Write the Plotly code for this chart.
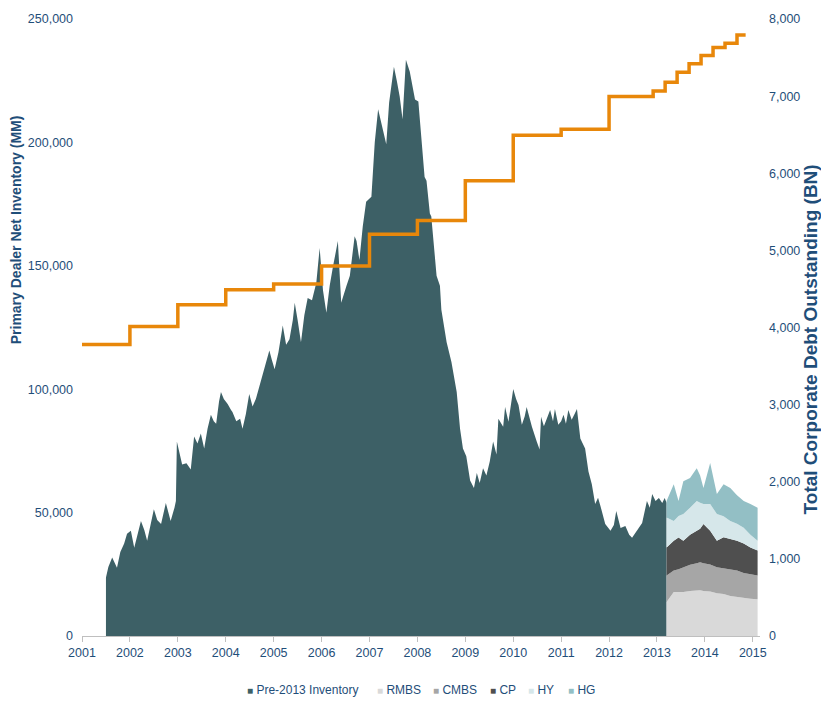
import plotly.graph_objects as go

# --- Primary dealer net inventory, pre-2013 (MM), decimal-year dates ---
pre_dates = [
    2001.50, 2001.55, 2001.63, 2001.68, 2001.73, 2001.80, 2001.88, 2001.94,
    2002.02, 2002.09, 2002.16, 2002.23, 2002.30, 2002.36, 2002.43, 2002.50,
    2002.57, 2002.65, 2002.75, 2002.85, 2002.93, 2002.96, 2002.98, 2003.04,
    2003.09, 2003.18, 2003.27, 2003.34, 2003.41, 2003.48, 2003.55, 2003.62,
    2003.69, 2003.75, 2003.80, 2003.86, 2003.90, 2003.96, 2004.04, 2004.11,
    2004.14, 2004.22, 2004.30, 2004.35, 2004.42, 2004.49, 2004.56, 2004.63,
    2004.70, 2004.77, 2004.84, 2004.91, 2004.96, 2005.02, 2005.10, 2005.19,
    2005.26, 2005.33, 2005.40, 2005.44, 2005.50, 2005.57, 2005.64, 2005.71,
    2005.80, 2005.89, 2005.96, 2006.03, 2006.10, 2006.17, 2006.24, 2006.34,
    2006.41, 2006.48, 2006.52, 2006.59, 2006.69, 2006.73, 2006.79, 2006.86,
    2006.93, 2007.04, 2007.11, 2007.18, 2007.25, 2007.30, 2007.35, 2007.41,
    2007.46, 2007.51, 2007.57, 2007.63, 2007.69, 2007.76, 2007.84, 2007.90,
    2007.95, 2008.02, 2008.09, 2008.15, 2008.19, 2008.26, 2008.29, 2008.36,
    2008.40, 2008.47, 2008.50, 2008.61, 2008.71, 2008.82, 2008.89, 2008.95,
    2009.02, 2009.10, 2009.18, 2009.24, 2009.30, 2009.37, 2009.44, 2009.51,
    2009.58, 2009.65, 2009.69, 2009.79, 2009.83, 2009.90, 2009.95, 2010.00,
    2010.06, 2010.11, 2010.18, 2010.24, 2010.28, 2010.34, 2010.39, 2010.49,
    2010.55, 2010.58, 2010.64, 2010.70, 2010.77, 2010.83, 2010.87, 2010.94,
    2011.00, 2011.05, 2011.10, 2011.15, 2011.22, 2011.28, 2011.33, 2011.40,
    2011.50, 2011.57, 2011.64, 2011.71, 2011.77, 2011.82, 2011.92, 2012.03,
    2012.10, 2012.15, 2012.24, 2012.34, 2012.42, 2012.48, 2012.58, 2012.69,
    2012.79, 2012.85, 2012.90, 2012.97, 2013.04, 2013.11, 2013.16, 2013.20,
]
pre_inventory = [
    23700, 28000, 31800, 29500, 27700, 34000, 37500, 41400,
    42600, 35800, 41000, 46600, 43000, 38600, 45000, 51400,
    47000, 45400, 53900, 46600, 52000, 54700, 78800, 73000,
    69500, 70000, 67500, 80800, 78000, 82000, 76000, 84000,
    89600, 87000, 86000, 95000, 98900, 96000, 94000, 91600,
    90800, 87000, 88000, 84000, 90000, 98100, 93000, 96100,
    101000, 106100, 110000, 115700, 112000, 108100, 115000, 125800,
    118000, 120200, 128000, 135000, 128000, 119000, 130000, 137000,
    136000, 143100, 157200, 140000, 131000, 142000, 149900, 160000,
    135000, 140000, 141900, 146000, 162000, 160000, 152300, 166000,
    176000, 178000, 200100, 213400, 207400, 204000, 199300, 216200,
    224000, 230700, 225000, 218600, 209400, 233500, 228700, 222000,
    217400, 216600, 198200, 186000, 184500, 171200, 170000, 155100,
    146000, 141900, 132200, 119000, 111000, 98900, 84000, 76000,
    72800, 63000, 60000, 66000, 62000, 68000, 65000, 70700,
    78800, 73500, 88000, 84800, 92800, 86800, 94000, 100100,
    96000, 93600, 85600, 89000, 92800, 88000, 84800, 78800,
    75600, 88800, 85000, 88000, 91600, 87000, 92000, 85600,
    87000, 89600, 86000, 91600, 87600, 90000, 92000, 80000,
    76000, 66700, 61500, 53500, 56000, 52700, 45400, 42600,
    45000, 50600, 43800, 44600, 41000, 39800, 42600, 45800,
    54700, 52000, 57500, 54700, 55900, 53900, 55900, 54000,
]

# --- Post-2013 breakdown (MM) ---
post_dates = [2013.20, 2013.35, 2013.45, 2013.55, 2013.69, 2013.83, 2013.90, 2013.97,
              2014.11, 2014.25, 2014.39, 2014.53, 2014.67, 2014.81, 2014.95, 2015.10]
rmbs = [13800, 17800, 17800, 17800, 18200, 18400, 18500, 18200,
        18000, 17300, 17000, 16200, 15800, 15400, 15100, 14900]
cmbs = [10700, 8700, 9200, 10100, 10700, 11100, 11400, 11300,
        11000, 10600, 10500, 10600, 10700, 10100, 9900, 9600]
cp = [11400, 12100, 12900, 10700, 12100, 13100, 13600, 15900,
      13600, 10700, 12500, 12500, 12100, 12000, 10900, 10100]
hy = [12100, 8000, 8700, 10800, 11000, 12100, 10500, 8100,
      10900, 10800, 8500, 7300, 6900, 6400, 5100, 4000]
hg = [6700, 14900, 6100, 13300, 12000, 13300, 11000, 6500,
      16600, 8100, 13000, 13400, 11500, 10800, 12500, 13400]

# --- Total corporate debt outstanding (BN), step dates ---
debt_dates = [2001.0, 2002.0, 2003.0, 2004.0, 2005.0, 2006.0, 2007.0, 2008.0,
              2009.0, 2010.0, 2011.0, 2012.0, 2012.92, 2013.17, 2013.42, 2013.67,
              2013.92, 2014.17, 2014.42, 2014.67, 2014.85]
debt_outstanding = [3781, 4013, 4296, 4488, 4565, 4797, 5208, 5388,
                    5903, 6494, 6571, 6996, 7065, 7180, 7309, 7421,
                    7527, 7630, 7687, 7794, 7794]

year_ticks = list(range(2001, 2016))
left_ticks = [0, 50000, 100000, 150000, 200000, 250000]
right_ticks = [0, 1000, 2000, 3000, 4000, 5000, 6000, 7000, 8000]

TEXT = "#1F4E79"
FONT = "Liberation Sans, Arial, sans-serif"

layers = [
    ("RMBS", rmbs, "#D9D9D9"),
    ("CMBS", cmbs, "#A6A6A6"),
    ("CP", cp, "#4F4F4F"),
    ("HY", hy, "#D6E7EA"),
    ("HG", hg, "#93BFC5"),
]
pre_color = "#3D6066"

fig = go.Figure()
fig.add_trace(go.Scatter(
    x=pre_dates, y=pre_inventory, name="Pre-2013 Inventory",
    mode="lines", line=dict(width=0, color=pre_color),
    fill="tozeroy", fillcolor=pre_color,
))
for name, vals, color in layers:
    fig.add_trace(go.Scatter(
        x=post_dates, y=vals, name=name, stackgroup="post",
        mode="lines", line=dict(width=0, color=color), fillcolor=color,
    ))
fig.add_trace(go.Scatter(
    x=debt_dates, y=debt_outstanding, name="Total Corporate Debt",
    mode="lines", line=dict(color="#E8870A", width=3.5, shape="hv"),
    yaxis="y2",
))

# plot area spans page x 82..760, y 14..636
def px_x(px):
    return (px - 82) / 678

def px_y(py):
    return (636 - py) / 622

# legend drawn as annotations to match the small square markers
legend_items = [("Pre-2013 Inventory", pre_color, 245)] + [
    (n, c, p) for (n, _, c), p in zip(layers, [375, 431, 488, 526, 566])
]
annotations = []
for label, color, p in legend_items:
    annotations.append(dict(
        x=px_x(p), y=px_y(690), xref="paper", yref="paper",
        xanchor="left", yanchor="middle", showarrow=False,
        text=f"<span style='color:{color};font-size:10px'>■</span> {label}",
        font=dict(family=FONT, size=12, color=TEXT),
    ))
annotations.append(dict(
    x=px_x(16), y=px_y(227), xref="paper", yref="paper", textangle=-90,
    xanchor="center", yanchor="middle",
    showarrow=False, text="<b>Primary Dealer Net Inventory (MM)</b>",
    font=dict(family=FONT, size=14, color=TEXT),
))
annotations.append(dict(
    x=px_x(810), y=px_y(337), xref="paper", yref="paper", textangle=-90,
    xanchor="center", yanchor="middle",
    showarrow=False, text="<b>Total Corporate Debt Outstanding (BN)</b>",
    font=dict(family=FONT, size=19, color=TEXT),
))

tick_font = dict(family=FONT, size=12.5, color=TEXT)
fig.update_layout(
    width=821, height=703,
    margin=dict(l=82, r=61, t=14, b=67),
    plot_bgcolor="white", paper_bgcolor="white",
    showlegend=False,
    annotations=annotations,
    xaxis=dict(
        range=[2001, 2015.15], tickvals=year_ticks, ticks="outside",
        ticklen=5, tickcolor="#BFBFBF", showline=True, linecolor="#BFBFBF",
        showgrid=False, zeroline=False, tickfont=tick_font,
    ),
    yaxis=dict(
        range=[0, 250000], tickvals=left_ticks, tickformat=",",
        showgrid=False, zeroline=False, showline=False,
        tickfont=tick_font, ticklabelstandoff=8, ticklabeloverflow="allow",
    ),
    yaxis2=dict(
        range=[0, 8000], tickvals=right_ticks, tickformat=",",
        overlaying="y", side="right", showgrid=False, zeroline=False,
        showline=False, tickfont=tick_font, ticklabelstandoff=8,
        ticklabeloverflow="allow",
    ),
)

# drop the default body margin so the 821x703 figure fills the window exactly
fig.write_html(
    "out.html",
    config={"displayModeBar": False},
    post_script="document.body.style.margin='0';document.body.style.overflow='hidden';",
)
